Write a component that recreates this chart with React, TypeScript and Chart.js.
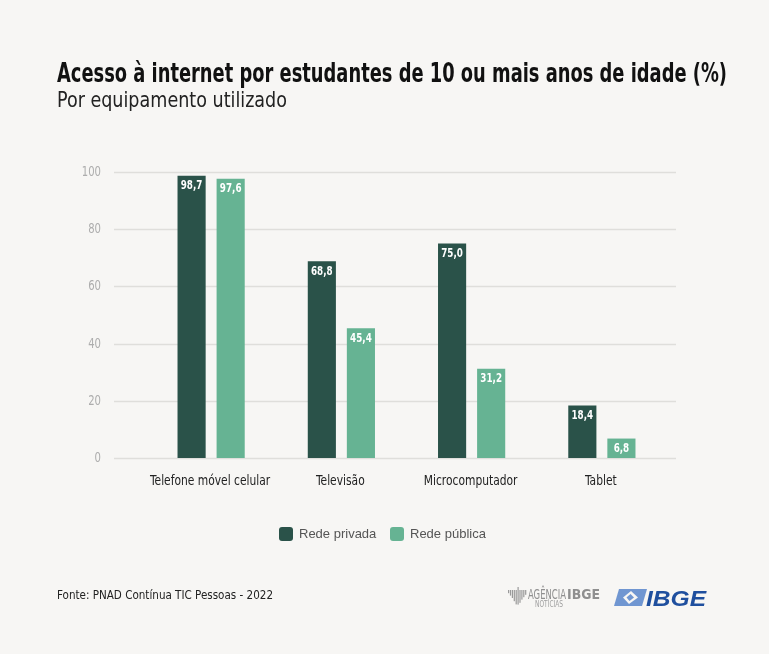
import React, { useEffect, useRef } from 'react';
import { Chart, registerables } from 'chart.js';

Chart.register(...registerables);

const categories = ['Telefone móvel celular', 'Televisão', 'Microcomputador', 'Tablet'];
const redePrivada = [98.7, 68.8, 75.0, 18.4];
const redePublica = [97.6, 45.4, 31.2, 6.8];
const seriesNames = ['Rede privada', 'Rede pública'];
const seriesColors = ['#2a5249', '#66b393'];
const yMin = 0;
const yMax = 100;
const yStep = 20;
const titleText = 'Acesso à internet por estudantes de 10 ou mais anos de idade (%)';
const subtitleText = 'Por equipamento utilizado';
const sourceText = 'Fonte: PNAD Contínua TIC Pessoas - 2022';

const COND = "'Liberation Sans Narrow','DejaVu Sans Condensed','Roboto Condensed','Arial Narrow',sans-serif";
const REG = "'Liberation Sans', Arial, 'Roboto', sans-serif";
const BG = '#f7f6f4';

function drawFitted(ctx: CanvasRenderingContext2D, text: string, x: number, y: number, width: number, font: string, color: string) {
  ctx.save();
  ctx.font = font;
  ctx.fillStyle = color;
  ctx.textAlign = 'left';
  ctx.textBaseline = 'alphabetic';
  const w = ctx.measureText(text).width;
  ctx.translate(x, y);
  ctx.scale(width / w, 1);
  ctx.fillText(text, 0, 0);
  ctx.restore();
}

function drawSqueezed(
  ctx: CanvasRenderingContext2D,
  text: string,
  x: number,
  y: number,
  sx: number,
  font: string,
  color: string,
  align: CanvasTextAlign,
) {
  ctx.save();
  ctx.font = font;
  ctx.fillStyle = color;
  ctx.textAlign = align;
  ctx.textBaseline = 'middle';
  ctx.translate(x, y);
  ctx.scale(sx, 1);
  ctx.fillText(text, 0, 0);
  ctx.restore();
}

const decorPlugin = {
  id: 'decor',
  beforeDraw(chart: any) {
    const ctx = chart.ctx as CanvasRenderingContext2D;
    ctx.save();
    ctx.fillStyle = BG;
    ctx.fillRect(0, 0, chart.width, chart.height);
    ctx.restore();
  },
  beforeDatasetsDraw(chart: any) {
    const ctx = chart.ctx as CanvasRenderingContext2D;
    const y = chart.scales.y;
    const x = chart.scales.x;
    const area = chart.chartArea;
    ctx.save();
    ctx.strokeStyle = '#dfdedb';
    ctx.lineWidth = 1.5;
    y.ticks.forEach((t: any) => {
      const py = Math.round(y.getPixelForValue(t.value)) + 0.5;
      ctx.beginPath();
      ctx.moveTo(area.left - 32, py);
      ctx.lineTo(area.right + 9, py);
      ctx.stroke();
      drawSqueezed(ctx, String(t.value), area.left - 45, py, 0.8, `14px ${COND}`, '#adadad', 'right');
    });
    x.ticks.forEach((t: any, i: number) => {
      const px = x.getPixelForTick(i);
      const label = chart.data.labels[i];
      drawSqueezed(ctx, label, px - 1, area.bottom + 23, 0.85, `14px ${COND}`, '#222222', 'center');
    });
    ctx.restore();
  },
  afterDatasetsDraw(chart: any) {
    const ctx = chart.ctx as CanvasRenderingContext2D;
    chart.data.datasets.forEach((ds: any, i: number) => {
      const meta = chart.getDatasetMeta(i);
      meta.data.forEach((el: any, j: number) => {
        const v = ds.data[j] as number;
        const txt = v.toFixed(1).replace('.', ',');
        drawSqueezed(ctx, txt, el.x, el.y + 10, 0.75, `bold 13px ${COND}`, '#ffffff', 'center');
      });
    });
  },
  afterDraw(chart: any) {
    const ctx = chart.ctx as CanvasRenderingContext2D;
    // Title & subtitle
    drawFitted(ctx, titleText, 57, 82, 670, `bold 27px ${COND}`, '#111111');
    drawFitted(ctx, subtitleText, 57, 107, 230, `21px ${COND}`, '#222222');

    // Legend
    ctx.save();
    const legendX = [279, 390];
    chart.data.datasets.forEach((ds: any, i: number) => {
      const x = legendX[i];
      ctx.fillStyle = ds.backgroundColor;
      ctx.beginPath();
      (ctx as any).roundRect(x, 527, 14, 14, 3);
      ctx.fill();
      ctx.font = `13px ${REG}`;
      ctx.fillStyle = '#555555';
      ctx.textAlign = 'left';
      ctx.textBaseline = 'middle';
      ctx.fillText(ds.label, x + 20, 534.5);
    });
    ctx.restore();

    // Source
    drawFitted(ctx, sourceText, 57, 599, 216, `13px ${COND}`, '#222222');

    // Agência IBGE logo
    ctx.save();
    ctx.fillStyle = '#9a9a9a';
    const barH = [4, 7, 10, 14, 18, 22, 16, 12, 9, 6];
    barH.forEach((h, k) => {
      const bx = 508 + k * 1.9;
      const top = 587 + (k === 5 ? 0 : 3);
      ctx.fillRect(bx, top, 1.2, h * 0.8);
    });
    ctx.restore();
    drawFitted(ctx, 'AGÊNCIA', 528, 599, 38, `14px ${COND}`, '#8f8f8f');
    drawFitted(ctx, 'IBGE', 567, 599, 33, `bold 14px ${COND}`, '#8f8f8f');
    drawFitted(ctx, 'NOTÍCIAS', 535, 607, 28, `8px ${COND}`, '#a0a0a0');

    // IBGE logo
    ctx.save();
    ctx.fillStyle = '#7096d1';
    ctx.beginPath();
    ctx.moveTo(619, 589);
    ctx.lineTo(647, 589);
    ctx.lineTo(642, 606);
    ctx.lineTo(614, 606);
    ctx.closePath();
    ctx.fill();
    ctx.fillStyle = BG;
    ctx.beginPath();
    ctx.moveTo(631, 591);
    ctx.lineTo(638, 597.5);
    ctx.lineTo(629, 604);
    ctx.lineTo(623, 597.5);
    ctx.closePath();
    ctx.fill();
    ctx.fillStyle = '#7096d1';
    ctx.beginPath();
    ctx.moveTo(630.5, 594);
    ctx.lineTo(634, 597.5);
    ctx.lineTo(629.5, 601);
    ctx.lineTo(626.5, 597.5);
    ctx.closePath();
    ctx.fill();
    ctx.restore();
    drawFitted(ctx, 'IBGE', 646, 606, 60, `italic bold 22px ${REG}`, '#1f4f9e');
  },
};

export default function App() {
  const canvasRef = useRef<HTMLCanvasElement | null>(null);

  useEffect(() => {
    document.body.style.margin = '0';
    document.body.style.background = BG;
    const canvas = canvasRef.current;
    if (!canvas) return;
    const chart = new Chart(canvas, {
      type: 'bar',
      data: {
        labels: categories,
        datasets: [
          {
            label: seriesNames[0],
            data: redePrivada,
            backgroundColor: seriesColors[0],
            categoryPercentage: 0.6,
            barPercentage: 0.72,
          },
          {
            label: seriesNames[1],
            data: redePublica,
            backgroundColor: seriesColors[1],
            categoryPercentage: 0.6,
            barPercentage: 0.72,
          },
        ],
      },
      options: {
        responsive: false,
        animation: false,
        devicePixelRatio: 1,
        layout: { padding: { top: 172, right: 102, left: 0, bottom: 0 } },
        plugins: {
          legend: { display: false },
          title: { display: false },
          tooltip: { enabled: false },
        },
        scales: {
          x: {
            grid: { display: false, drawTicks: false },
            border: { display: false },
            ticks: { display: false, autoSkip: false },
            afterFit: (s: any) => {
              s.height = 196;
            },
          },
          y: {
            min: yMin,
            max: yMax,
            grid: { display: false, drawTicks: false },
            border: { display: false },
            ticks: { stepSize: yStep, display: false },
            afterFit: (s: any) => {
              s.width = 146;
            },
          },
        },
      },
      plugins: [decorPlugin],
    });
    return () => chart.destroy();
  }, []);

  return (
    <div style={{ width: 769, height: 654, background: BG }}>
      <canvas ref={canvasRef} width={769} height={654} style={{ display: 'block' }} />
    </div>
  );
}
